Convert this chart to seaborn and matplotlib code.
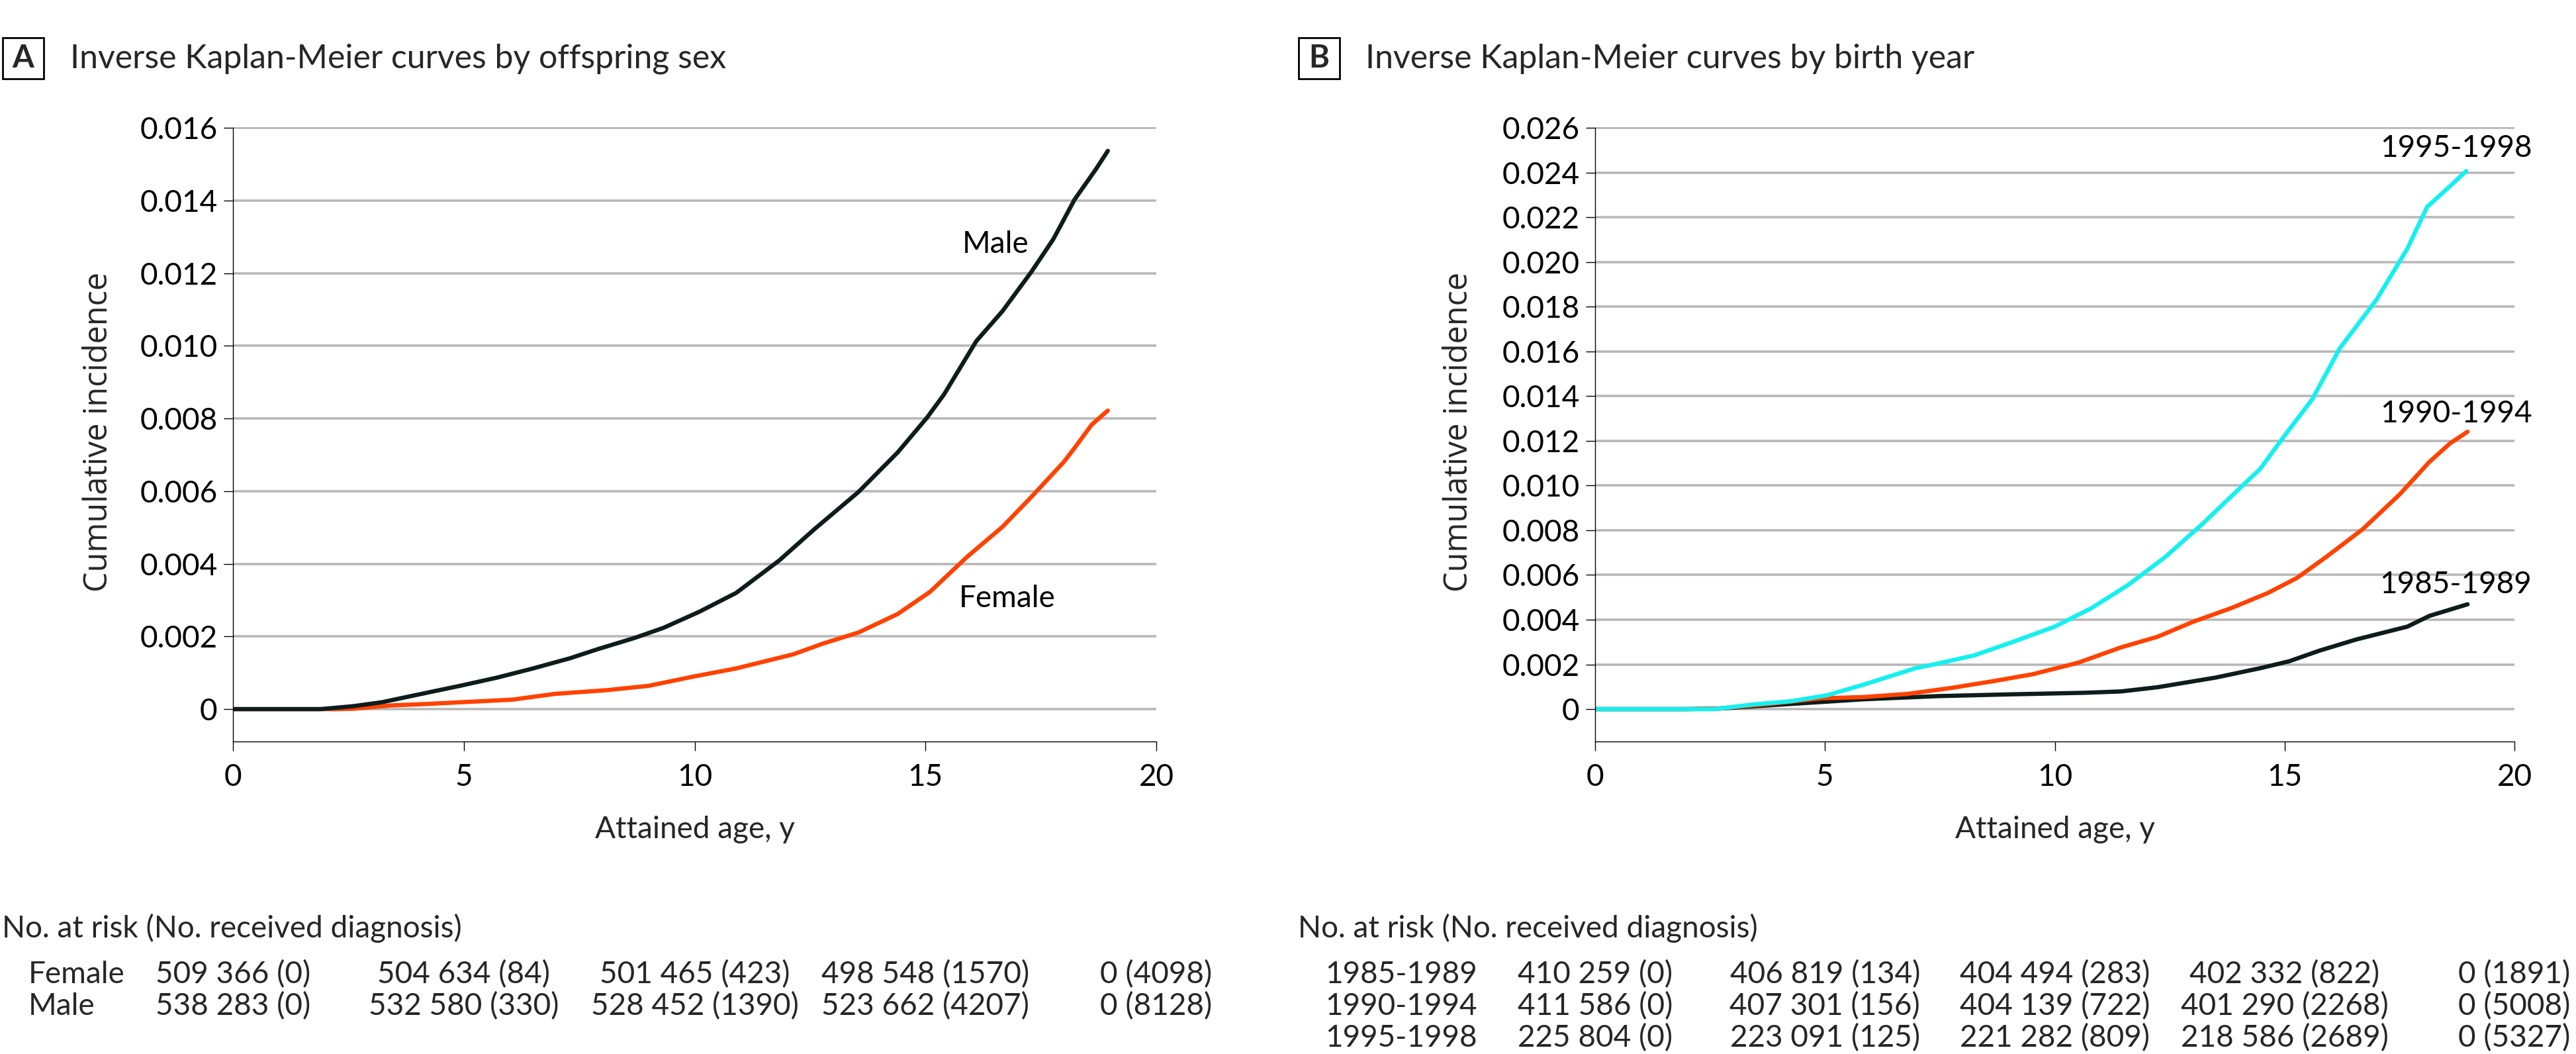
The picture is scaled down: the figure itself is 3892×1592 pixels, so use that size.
import matplotlib
matplotlib.use("Agg")
import matplotlib.pyplot as plt
import matplotlib.transforms as mtransforms
from matplotlib.patches import Rectangle
import seaborn as sns
import pandas as pd

# ---------------- data ----------------
male_age = [0, 1.9, 2.6, 3.23, 3.86, 4.95, 5.73, 6.5, 7.3, 7.9, 8.7, 9.33, 10.1, 10.9,
            11.83, 12.6, 13.55, 14.4, 15.03, 15.4, 16.1, 16.67, 17.3, 17.77, 18.23, 18.7, 18.95]
male_ci = [0, 0, 0.00008, 0.00019, 0.00036, 0.00065, 0.00087, 0.00112, 0.0014, 0.00165,
           0.00196, 0.00224, 0.00268, 0.0032, 0.00409, 0.00496, 0.00598, 0.00707, 0.00802,
           0.00866, 0.01013, 0.01096, 0.01205, 0.01294, 0.01403, 0.01488, 0.01537]
female_age = [0, 2.2, 2.6, 3.4, 4.17, 4.95, 6.05, 6.98, 8.08, 9.0, 9.95, 10.9, 12.14, 12.77,
              13.55, 14.4, 15.1, 15.9, 16.67, 17.3, 18.0, 18.23, 18.6, 18.95]
female_ci = [0, 0, 0.00001, 0.0001, 0.00014, 0.00019, 0.00026, 0.00042, 0.00052, 0.00064,
             0.00089, 0.00112, 0.00151, 0.0018, 0.00211, 0.00262, 0.00323, 0.00419, 0.00502,
             0.00585, 0.00681, 0.00719, 0.00783, 0.00822]

by85_age = [0, 2.0, 2.65, 4.25, 5.85, 7.44, 9.04, 10.64, 11.44, 12.24, 13.5, 14.47, 15.1,
            15.75, 16.55, 17.67, 18.15, 18.98]
by85_ci = [0, 0, 0.00002, 0.00023, 0.00044, 0.00058, 0.00066, 0.00073, 0.00079, 0.00098,
           0.00141, 0.00183, 0.00214, 0.00261, 0.00311, 0.00369, 0.00417, 0.00469]
by90_age = [0, 2.0, 2.65, 3.77, 4.9, 5.85, 6.8, 7.76, 8.72, 9.52, 10.5, 11.44, 12.24, 13.0,
            13.84, 14.63, 15.27, 15.9, 16.7, 17.5, 18.15, 18.6, 18.98]
by90_ci = [0, 0, 0.00002, 0.00023, 0.00048, 0.00054, 0.00068, 0.00095, 0.00127, 0.00156,
           0.00207, 0.00276, 0.00324, 0.0039, 0.00452, 0.00519, 0.00587, 0.0068, 0.00805,
           0.0096, 0.01106, 0.01189, 0.01241]
by95_age = [0, 2.6, 3.45, 4.25, 5.05, 5.85, 6.97, 7.44, 8.24, 9.04, 10.0, 10.8, 11.6, 12.4,
            13.2, 13.83, 14.47, 14.95, 15.6, 16.2, 17.0, 17.67, 18.1, 18.6, 18.95]
by95_ci = [0, 0, 0.00021, 0.00035, 0.00062, 0.0011, 0.00183, 0.00203, 0.0024, 0.00297,
           0.00369, 0.00452, 0.00556, 0.0068, 0.00826, 0.0095, 0.01075, 0.0121, 0.01386,
           0.01614, 0.01832, 0.0206, 0.02247, 0.0234, 0.02407]

risk_times = [0, 5, 10, 15, 20]
sex_groups = ["Female", "Male"]
sex_at_risk = [[509366, 504634, 501465, 498548, 0],
               [538283, 532580, 528452, 523662, 0]]
sex_dx = [[0, 84, 423, 1570, 4098],
          [0, 330, 1390, 4207, 8128]]
year_groups = ["1985-1989", "1990-1994", "1995-1998"]
year_at_risk = [[410259, 406819, 404494, 402332, 0],
                [411586, 407301, 404139, 401290, 0],
                [225804, 223091, 221282, 218586, 0]]
year_dx = [[0, 134, 283, 822, 1891],
           [0, 156, 722, 2268, 5008],
           [0, 125, 809, 2689, 5327]]

yticks_a = [0, 0.002, 0.004, 0.006, 0.008, 0.010, 0.012, 0.014, 0.016]
yticks_b = [0, 0.002, 0.004, 0.006, 0.008, 0.010, 0.012, 0.014, 0.016, 0.018, 0.020,
            0.022, 0.024, 0.026]
xticks = [0, 5, 10, 15, 20]

# ---------------- style ----------------
sns.set_theme(style="white")
plt.rcParams["font.family"] = ["Lato", "DejaVu Sans"]

BLACK = "#0d1c1c"
ORANGE = "#ff4200"
CYAN = "#14f0f0"
GRID = "#b8b8b8"
W, H = 3892, 1592
FS = 33
LW = 4.6

fig = plt.figure(figsize=(W / 100, H / 100), dpi=100)


def fx(x):
    return x / W


def fy(y):
    return 1 - y / H


ax_a = fig.add_axes([fx(352), fy(1120), fx(1747 - 352), (1120 - 192) / H])
ax_b = fig.add_axes([fx(2410), fy(1120), fx(3799 - 2410), (1120 - 192) / H])


def fmt_tick(v):
    return "0" if v == 0 else f"{v:.3f}"


def fmt_num(n):
    return f"{n:,}".replace(",", " ")


def style_axes(ax, yticks, ybot):
    top = yticks[-1]
    ax.set_xlim(0, 20)
    ax.set_ylim(ybot, top * 1.0015)
    ax.set_xticks(xticks, [str(t) for t in xticks])
    ax.set_yticks(yticks, [fmt_tick(t) for t in yticks])
    ax.yaxis.grid(True, color=GRID, linewidth=2.6)
    ax.xaxis.grid(False)
    ax.set_axisbelow(True)
    for s in ["top", "right"]:
        ax.spines[s].set_visible(False)
    for s in ["left", "bottom"]:
        ax.spines[s].set_color("black")
        ax.spines[s].set_linewidth(1.0)
    ax.spines["left"].set_bounds(ybot, top)
    ax.tick_params(axis="both", which="major", direction="out", length=10, width=1.0,
                   color="black", labelsize=FS, labelcolor="black")
    ax.tick_params(axis="x", pad=14, bottom=True)
    ax.tick_params(axis="y", pad=7, left=True)
    ax.set_xlabel("")
    ax.set_ylabel("")


# Panel A
df_a = pd.concat([
    pd.DataFrame({"age": female_age, "ci": female_ci, "group": "Female"}),
    pd.DataFrame({"age": male_age, "ci": male_ci, "group": "Male"}),
])
sns.lineplot(data=df_a, x="age", y="ci", hue="group", hue_order=["Female", "Male"],
             palette={"Female": ORANGE, "Male": BLACK}, estimator=None, sort=False,
             linewidth=LW, ax=ax_a, legend=False)
style_axes(ax_a, yticks_a, -0.000892)
ax_a.text(15.8, 0.0128, "Male", fontsize=FS, ha="left", va="center", color="black")
ax_a.text(15.73, 0.00304, "Female", fontsize=FS, ha="left", va="center", color="black")

# Panel B
df_b = pd.concat([
    pd.DataFrame({"age": by85_age, "ci": by85_ci, "group": "1985-1989"}),
    pd.DataFrame({"age": by90_age, "ci": by90_ci, "group": "1990-1994"}),
    pd.DataFrame({"age": by95_age, "ci": by95_ci, "group": "1995-1998"}),
])
sns.lineplot(data=df_b, x="age", y="ci", hue="group", hue_order=year_groups,
             palette={"1985-1989": BLACK, "1990-1994": ORANGE, "1995-1998": CYAN},
             estimator=None, sort=False, linewidth=LW, ax=ax_b, legend=False)
style_axes(ax_b, yticks_b, -0.00145)
ax_b.text(20.38, 0.0251, "1995-1998", fontsize=FS, ha="right", va="center", color="black")
ax_b.text(20.38, 0.0132, "1990-1994", fontsize=FS, ha="right", va="center", color="black")
ax_b.text(20.38, 0.00557, "1985-1989", fontsize=FS, ha="right", va="center", color="black")

# axis labels
for ax, yl_x in [(ax_a, 149), (ax_b, 2204)]:
    bb = ax.get_position()
    fig.text((bb.x0 + bb.x1) / 2, fy(1253), "Attained age, y", fontsize=FS,
             ha="center", va="center")
    fig.text(fx(yl_x), fy(652), "Cumulative incidence", fontsize=35,
             family=["Open Sans", "DejaVu Sans"], ha="center", va="center", rotation=90)

# panel titles
for bx, tx, letter, title in [(4, 106, "A", "Inverse Kaplan-Meier curves by offspring sex"),
                              (1962, 2063, "B", "Inverse Kaplan-Meier curves by birth year")]:
    fig.patches.append(Rectangle((fx(bx), fy(119)), fx(62), 62 / H, transform=fig.transFigure,
                                 fill=False, edgecolor="black", lw=2.0))
    fig.text(fx(bx + 31), fy(88), letter, fontsize=34, fontweight="bold",
             ha="center", va="center")
    fig.text(fx(tx), fy(89), title, fontsize=36, ha="left", va="center")

# risk tables
for ax, hx, lx, groups, nrisk, ndx in [
        (ax_a, 3, 43, sex_groups, sex_at_risk, sex_dx),
        (ax_b, 1961, 2002, year_groups, year_at_risk, year_dx)]:
    fig.text(fx(hx), fy(1402), "No. at risk (No. received diagnosis)", fontsize=FS,
             ha="left", va="center")
    trans = mtransforms.blended_transform_factory(ax.transData, fig.transFigure)
    for i, g in enumerate(groups):
        ypix = 1472 + i * 48
        fig.text(fx(lx), fy(ypix), g, fontsize=FS, ha="left", va="center")
        for t, n, d in zip(risk_times, nrisk[i], ndx[i]):
            ax.text(t, fy(ypix), f"{fmt_num(n)} ({d})", transform=trans, fontsize=FS,
                    ha="center", va="center", clip_on=False)

fig.savefig("out.png", dpi=100, facecolor="white")
